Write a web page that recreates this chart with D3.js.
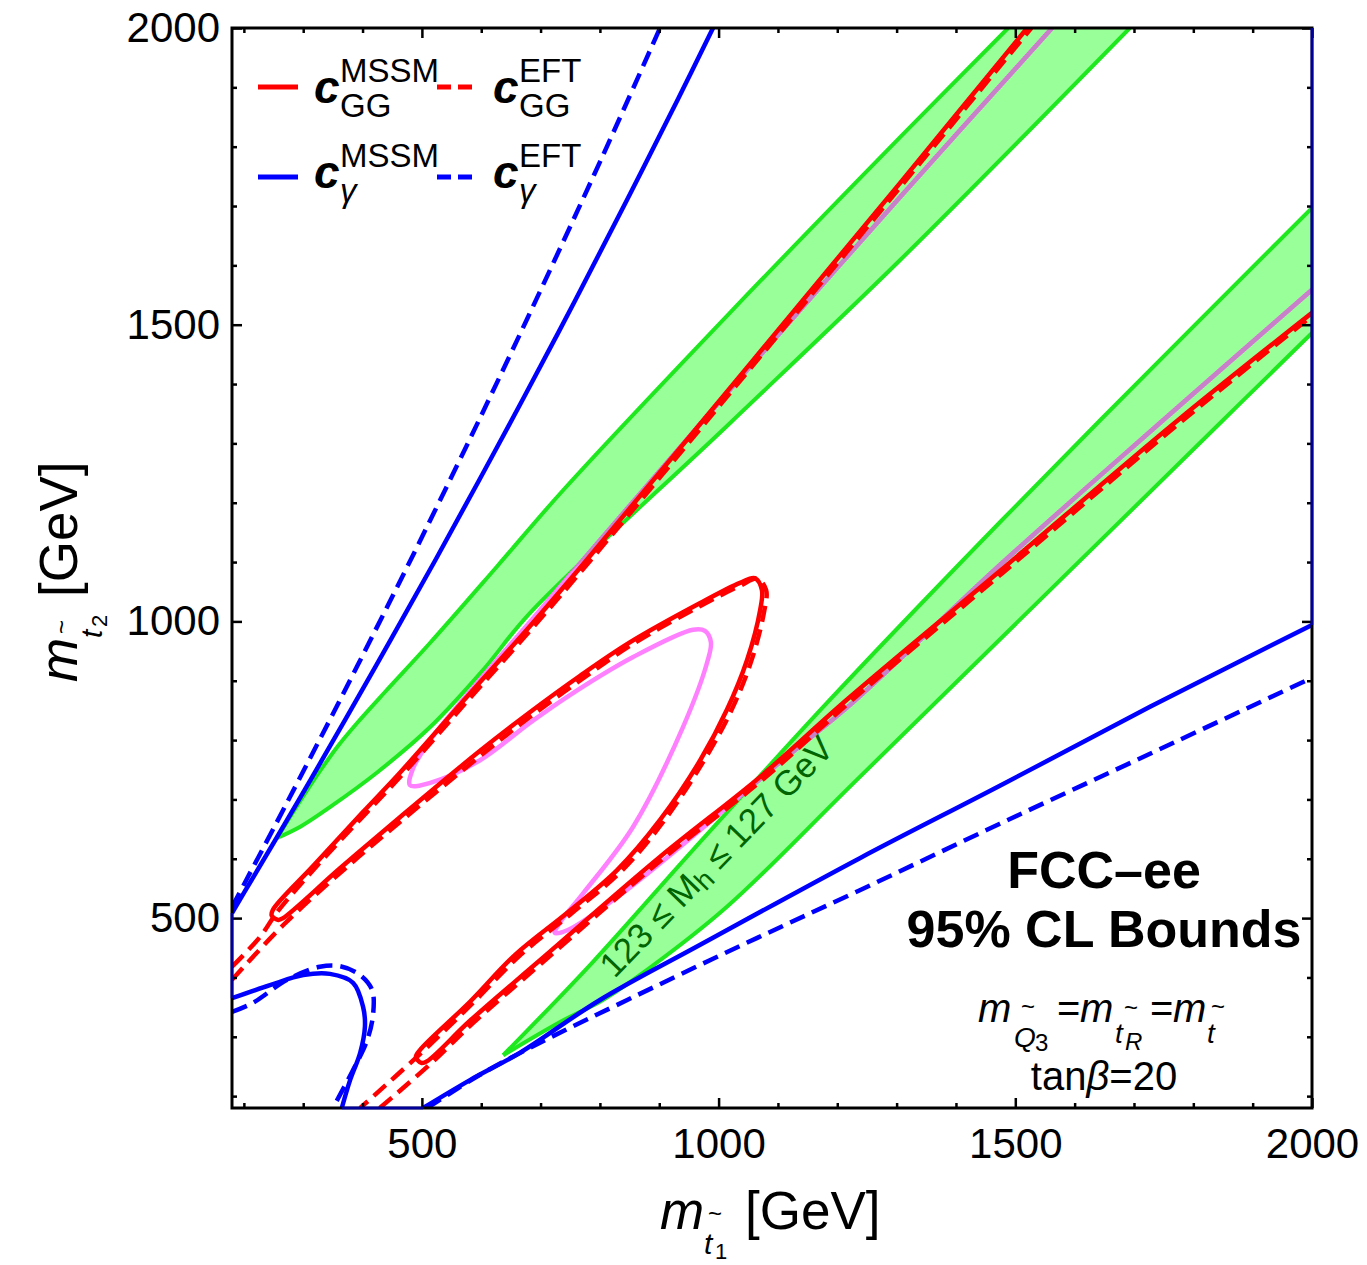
<!DOCTYPE html>
<html>
<head>
<meta charset="utf-8">
<script src="https://cdn.jsdelivr.net/npm/d3@7"></script>
<style>
html,body{margin:0;padding:0;background:#fff;}
svg{display:block;}
</style>
</head>
<body>
<svg id="chart" width="1367" height="1265"></svg>
<script>
// ---------- axis ticks ----------
const xMajorTicks = [500, 1000, 1500, 2000];
const yMajorTicks = [500, 1000, 1500, 2000];
const minorTicks = [200,300,400,600,700,800,900,1100,1200,1300,1400,1600,1700,1800,1900];

// ---------- c_gamma contours (GeV pairs: m_t1, m_t2) ----------
const gammaMSSMUpper = [[180,508.6],[213,564.2],[253,631.6],[312.1,732.7],[370.6,833.9],[447.3,968.7],[522.8,1103.5],[596.7,1238.3],[669.5,1373.1],[758.7,1541.6],[845.6,1710.2],[930.8,1878.7],[990.6,2000]];
const gammaEFTUpper  = [[180,518.7],[204.1,564.2],[254.8,660.3],[298.6,744.5],[353.4,850.7],[419.3,980.5],[481,1103.5],[580.1,1305.7],[678.1,1511.3],[790,1752.3],[847.2,1878.7],[901.3,2000]];
const gammaMSSMLower = [[502,180],[581,227],[665,273],[800,362],[969,455],[1238,601],[1474,723],[1727,856],[2000,994]];
const gammaEFTLower  = [[509,180],[598,236],[699,290],[846,362],[1036,453],[1238,547],[1474,659],[1727,777],[2000,905]];
const gammaMSSMLoop  = [[180,365],[244,387],[300,404],[345,406],[384,391],[401,350],[404,317],[396,273],[379,227],[365,180]];
const gammaEFTLoop   = [[180,342],[215,357],[273,396],[328,418],[362,419],[396,404],[416,379],[418,340],[408,295],[384,244],[350,180]];

// ---------- c_GG contours ----------
const ggMSSM = [[1520,2000],[1306,1739],[1053,1434],[778,1104],[682,992],[576,873],[463,745],[401,679],[317,588],[249,514],[247,504],[258,497],[266,500],
  [362,584],[463,670],[598,782],[682,847],[766,908],[851,965],[969,1031],[1036,1065],[1061,1073],[1073,1053],[1070,1019],[1048,935],[1014,851],[969,766],
  [901,665],[829,581],[745,509],[657,438],[581,359],[497,278],[490,266],[499,256],[509,259],
  [581,327],[699,429],[901,603],[1070,738],[1216,868],[1474,1085],[1774,1339],[2000,1520]];
const ggEFTa = [[180,418],[227,468],[256,510],[323,588],[408,679],[470,745],[583,873],[689,992],[785,1104],[1060,1434],[1312,1739],[1527,2000]];
const ggEFTb = [[180,396],[266,488],[362,576],[463,662],[598,773],[682,839],[766,900],[851,959],[969,1026],[1036,1060],[1065,1072],[1080,1053],[1077,1018],
  [1055,933],[1021,849],[975,765],[908,664],[836,579],[751,507],[664,436],[586,357],[499,273],[396,180]];
const ggEFTc = [[429,180],[514,254],[586,323],[704,426],[906,600],[1075,734],[1221,864],[1479,1082],[1779,1336],[2000,1515]];

// ---------- violet contour ----------
const violetLine = [[1562,2000],[1306,1715],[1053,1429],[800,1137],[682,999],[569,868],[514,800],[485,752],[480,724],[514,728],[598,766],
  [682,829],[745,873],[856,940],[957,986],[977,984],[987,965],[981,932],[940,822],[856,654],[772,542],[733,493],[724,475],[746,480],[834,539],
  [935,620],[1104,763],[1227,864],[1474,1095],[1749,1339],[2000,1559]];

// ---------- 123 <= Mh <= 127 GeV bands ----------
const bandUpperTop    = [[256,635],[289.5,689],[324.9,743],[358.6,790],[392.3,830.5],[437.8,881],[514,964],[627,1093],[738,1221],[1019,1520],[1306,1816],[1488,2000]];
const bandUpperBottom = [[256,635],[295,654],[345,687],[424,745],[514,822],[603,918],[682,1014],[1019,1334],[1306,1609],[1693,2000]];
const bandLowerTop    = [[637,269],[788,426],[957,615],[1183,863],[1407,1098],[1643,1339],[2000,1697]];
const bandLowerBottom = [[637,269],[733,325],[805,362],[884,416],[1014,519],[1238,738],[1850,1339],[2000,1486]];

// ---------- setup ----------
const FONT = '"Liberation Sans", Arial, Helvetica, sans-serif';
const C = {fill:'#99ff99', edge:'#1ee81e', red:'#ff0000', blue:'#0000ff', violet:'#ff80ff', violetIn:'#c880c8', bandText:'#006400'};
const X0 = 232, X1 = 1312, Y0 = 28, Y1 = 1108;
const svg = d3.select('#chart');
const x = d3.scaleLinear().domain([180, 2000]).range([X0, X1]);
const y = d3.scaleLinear().domain([180, 2000]).range([Y1, Y0]);
const smooth = d3.line().x(d => x(d[0])).y(d => y(d[1])).curve(d3.curveCatmullRom.alpha(0.5));
const straight = d3.line().x(d => x(d[0])).y(d => y(d[1]));

const defs = svg.append('defs');
defs.append('clipPath').attr('id', 'plotClip').append('rect')
  .attr('x', X0).attr('y', Y0).attr('width', X1 - X0).attr('height', Y1 - Y0);

const bands = [
  {top: bandUpperTop, bottom: bandUpperBottom},
  {top: bandLowerTop, bottom: bandLowerBottom}
];
// smooth edges, straight closing along the frame
const bandPath = b => smooth(b.top) + 'L' + smooth(b.bottom.slice().reverse()).slice(1) + 'Z';
const bandClip = defs.append('clipPath').attr('id', 'bandClip');
bands.forEach(b => bandClip.append('path').attr('d', bandPath(b)));

const plot = svg.append('g').attr('clip-path', 'url(#plotClip)');

// band fills
plot.selectAll('path.bandfill').data(bands).join('path')
  .attr('class', 'bandfill').attr('d', bandPath).attr('fill', C.fill).attr('stroke', 'none');

// band label
const bt = svg.append('text')
  .attr('transform', 'translate(716,856) rotate(-46)')
  .attr('text-anchor', 'middle').attr('dy', '0.36em')
  .attr('font-size', 35).attr('font-family', FONT).attr('fill', C.bandText);
bt.append('tspan').text('123 \u2264 M');
bt.append('tspan').attr('font-size', 27).attr('dy', 5).text('h');
bt.append('tspan').attr('dy', -5).text(' \u2264 127 GeV');

// band edges
const edges = [bandUpperTop, bandUpperBottom, bandLowerTop, bandLowerBottom];
plot.selectAll('path.edge').data(edges).join('path')
  .attr('class', 'edge').attr('d', smooth).attr('fill', 'none')
  .attr('stroke', C.edge).attr('stroke-width', 4);

// violet contour
const lw = 4.5;
plot.append('path').attr('d', smooth(violetLine)).attr('fill', 'none')
  .attr('stroke', C.violet).attr('stroke-width', lw).attr('stroke-linejoin', 'round');
plot.append('g').attr('clip-path', 'url(#bandClip)').append('path').attr('d', smooth(violetLine)).attr('fill', 'none')
  .attr('stroke', C.violetIn).attr('stroke-width', lw).attr('stroke-linejoin', 'round');

// c_GG
plot.append('path').attr('d', smooth(ggMSSM)).attr('fill', 'none')
  .attr('stroke', C.red).attr('stroke-width', lw).attr('stroke-linejoin', 'round');
plot.selectAll('path.ggeft').data([ggEFTa, ggEFTb, ggEFTc]).join('path')
  .attr('class', 'ggeft').attr('d', smooth).attr('fill', 'none')
  .attr('stroke', C.red).attr('stroke-width', lw).attr('stroke-dasharray', '16,8');

// c_gamma
plot.selectAll('path.gmssm').data([gammaMSSMUpper, gammaMSSMLoop, gammaMSSMLower]).join('path')
  .attr('class', 'gmssm').attr('d', smooth).attr('fill', 'none')
  .attr('stroke', C.blue).attr('stroke-width', lw);
plot.selectAll('path.geft').data([gammaEFTUpper, gammaEFTLoop, gammaEFTLower]).join('path')
  .attr('class', 'geft').attr('d', smooth).attr('fill', 'none')
  .attr('stroke', C.blue).attr('stroke-width', lw).attr('stroke-dasharray', '16,8');

// ---------- axes ----------
function styleAxis(g) {
  g.select('.domain').remove();
  g.selectAll('line').attr('stroke', '#000').attr('stroke-width', 2.5);
  g.selectAll('text').attr('font-size', 42).attr('font-family', FONT).attr('fill', '#000');
}
const fmt = d3.format('d');
svg.append('g').attr('transform', `translate(0,${Y1})`)
  .call(d3.axisBottom(x).tickValues(xMajorTicks).tickSize(-10).tickPadding(20).tickFormat(fmt)).call(styleAxis);
svg.append('g').attr('transform', `translate(0,${Y1})`)
  .call(d3.axisBottom(x).tickValues(minorTicks).tickSize(-5).tickFormat('')).call(styleAxis);
svg.append('g').attr('transform', `translate(0,${Y0})`)
  .call(d3.axisTop(x).tickValues(xMajorTicks).tickSize(-10).tickFormat('')).call(styleAxis);
svg.append('g').attr('transform', `translate(0,${Y0})`)
  .call(d3.axisTop(x).tickValues(minorTicks).tickSize(-5).tickFormat('')).call(styleAxis);
svg.append('g').attr('transform', `translate(${X0},0)`)
  .call(d3.axisLeft(y).tickValues(yMajorTicks).tickSize(-10).tickPadding(12).tickFormat(fmt)).call(styleAxis);
svg.append('g').attr('transform', `translate(${X0},0)`)
  .call(d3.axisLeft(y).tickValues(minorTicks).tickSize(-5).tickFormat('')).call(styleAxis);
svg.append('g').attr('transform', `translate(${X1},0)`)
  .call(d3.axisRight(y).tickValues(yMajorTicks).tickSize(-10).tickFormat('')).call(styleAxis);
svg.append('g').attr('transform', `translate(${X1},0)`)
  .call(d3.axisRight(y).tickValues(minorTicks).tickSize(-5).tickFormat('')).call(styleAxis);

svg.append('rect').attr('x', X0).attr('y', Y0).attr('width', X1 - X0).attr('height', Y1 - Y0)
  .attr('fill', 'none').attr('stroke', '#000').attr('stroke-width', 3);

// contour pieces running along the frame
const frameSegs = [
  [gammaMSSMLoop[0], gammaMSSMUpper[0]],
  [gammaMSSMLoop[gammaMSSMLoop.length - 1], gammaMSSMLower[0]],
  [gammaMSSMLower[gammaMSSMLower.length - 1], [2000, 2000]]
];
svg.selectAll('path.fseg').data(frameSegs).join('path').attr('class', 'fseg')
  .attr('d', straight).attr('fill', 'none').attr('stroke', C.blue).attr('stroke-width', 3).attr('stroke-opacity', 0.6);

// ---------- text helpers ----------
function T(x0, y0, s, size, o = {}) {
  const t = (o.parent || svg).append('text').attr('x', x0).attr('y', y0)
    .attr('font-size', size).attr('font-family', FONT).attr('fill', o.fill || '#000').text(s);
  if (o.italic) t.attr('font-style', 'italic');
  if (o.bold) t.attr('font-weight', 'bold');
  if (o.anchor) t.attr('text-anchor', o.anchor);
  return t;
}

// ---------- legend ----------
const legendEntries = [
  {sup: 'MSSM', sub: 'GG', color: C.red, dash: null, col: 0, row: 0},
  {sup: 'EFT', sub: 'GG', color: C.red, dash: '14,7', col: 1, row: 0},
  {sup: 'MSSM', sub: '\u03b3', color: C.blue, dash: null, col: 0, row: 1},
  {sup: 'EFT', sub: '\u03b3', color: C.blue, dash: '14,7', col: 1, row: 1}
];
const colX = [258, 437];
const rowLineY = [87, 177];
const rowShift = [0, 85];
legendEntries.forEach(e => {
  const lx = colX[e.col], dy = rowShift[e.row];
  const ln = svg.append('line').attr('x1', lx).attr('x2', lx + 40)
    .attr('y1', rowLineY[e.row]).attr('y2', rowLineY[e.row])
    .attr('stroke', e.color).attr('stroke-width', 5);
  if (e.dash) ln.attr('stroke-dasharray', e.dash);
  T(lx + 56, 103 + dy, 'c', 46, {italic: true, bold: true});
  T(lx + 82, 82 + dy, e.sup, 33);
  if (e.row === 0) T(lx + 82, 117, e.sub, 33);
  else T(lx + 82, 202, e.sub, 33, {italic: true});
});

// ---------- axis titles ----------
function massLabel(parent, idx) {
  T(0, 0, 'm', 53, {italic: true, parent});
  T(44, 25, 't', 30, {italic: true, parent});
  T(55, 30, idx, 22, {parent});
  T(48, -7, '~', 24, {parent});
  T(85, 0, '[GeV]', 53, {parent});
}
massLabel(svg.append('g').attr('transform', 'translate(660,1229)'), '1');
massLabel(svg.append('g').attr('transform', 'translate(77,682) rotate(-90)'), '2');

// ---------- annotations ----------
T(1104, 888, 'FCC\u2013ee', 52, {bold: true, anchor: 'middle'});
T(1104, 947, '95% CL Bounds', 52, {bold: true, anchor: 'middle'});

T(978, 1022, 'm', 40, {italic: true});
T(1014, 1047, 'Q', 28, {italic: true});
T(1035, 1051, '3', 24);
T(1021, 1015, '~', 24);
T(1057, 1022, '=', 40);
T(1080, 1022, 'm', 40, {italic: true});
T(1115, 1043, 't', 28, {italic: true});
T(1125, 1050, 'R', 24, {italic: true});
T(1124, 1016, '~', 24);
T(1150, 1022, '=', 40);
T(1173, 1022, 'm', 40, {italic: true});
T(1207, 1043, 't', 28, {italic: true});
T(1211, 1015, '~', 24);

const tb = T(1104, 1090, 'tan', 40, {anchor: 'middle'});
tb.append('tspan').attr('font-style', 'italic').text('\u03b2');
tb.append('tspan').text('=20');
</script>
</body>
</html>
